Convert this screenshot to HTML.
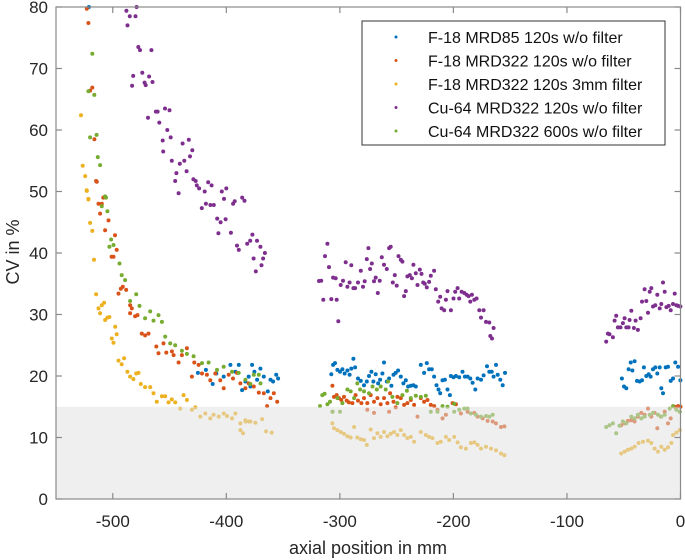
<!DOCTYPE html>
<html><head><meta charset="utf-8"><style>
html,body{margin:0;padding:0;background:#fff;}
svg{display:block;font-family:"Liberation Sans",Arial,sans-serif;}
</style></head><body>
<svg id="chart" width="685" height="560" viewBox="0 0 685 560"></svg>
<script>
const xTicks=[-500,-400,-300,-200,-100,0];
const xTickLabels=["-500","-400","-300","-200","-100","0"];
const yTicks=[0,10,20,30,40,50,60,70,80];
const yTickLabels=["0","10","20","30","40","50","60","70","80"];
const seriesNames=["F-18 MRD85 120s w/o filter","F-18 MRD322 120s w/o filter","F-18 MRD322 120s 3mm filter","Cu-64 MRD322 120s w/o filter","Cu-64 MRD322 600s w/o filter"];
const bandLimit=15;

const blueX=[-521,-412,-408.8,-402.3,-396.4,-392,-389,-386.1,-383.2,-380.3,-378.8,-377.3,-375.3,-372.9,-370,-367,-363.5,-361.1,-358.8,-356.1,-354.4,-425,-418,
-307.5,-306,-304.3,-302.2,-299.9,-297.8,-295.8,-293.4,-291.4,-289.9,-288.1,-286.6,-284,-281.6,-278.7,-276.3,-274.3,-272.2,-270.5,-268.4,-266.3,-264.6,-262.5,-261.1,-258.7,-256.6,-254.6,-252.8,-250.8,-248.7,-246.3,-244,-241.9,-239.9,-237.5,-235.2,-233.1,-228.7,-225.8,-223.4,-221.4,-219,-217,-214.9,-213.1,-211.6,-209.6,-207.5,-205.2,-203.1,-202.2,-199.9,-197.8,-194.9,-192,-189.9,-187.5,-185.1,-183.1,-180.7,-178.7,-175.7,-173.4,-170.4,-168.4,-166.3,-164.6,-162.5,-161,-158.7,-156.6,-154.6,
-51.6,-49.8,-47.7,-45.7,-43.9,-42.4,-40.4,-38.3,-36,-33.9,-32.2,-30.1,-28,-26.3,-24.2,-22.2,-20.4,-18.3,-16.9,-15.4,-13,-11,-8.6,-6.6,-4.6,-2.1,-0.1];
const blueY=[80,18.7,20.4,19.9,21.8,20.7,21.8,17.7,19.1,19.9,18.3,21.8,20.7,19.4,21.2,19.9,17.5,19.4,19.1,20.2,19.6,20.5,21,
20.3,21.8,22.1,21,20.7,21.1,20.4,20.9,20.2,21.2,22.8,21.4,19.6,19.2,18.5,19.1,20,20.7,19.1,20.3,18.8,19.4,20.4,22.2,19.1,19.6,18.4,20.2,20.5,20.9,19.9,18.8,19.3,18.3,18.4,18.5,18.3,21.8,20.5,22.1,21.1,21.1,19.9,18.5,17.8,17.2,19.3,19.4,17.8,16.9,20,19.8,20,19.8,20.7,19.9,19.9,19.6,18.9,17.8,19.6,19.4,20.1,21.6,20.7,20.7,19.9,21.8,20.2,19.4,18.5,20.5,
19.6,18.3,18,21.1,22.2,20.9,22.4,19.2,19.1,19.3,21.4,20,20.3,19.9,21.1,21.4,20.4,21.4,18,17.2,21.4,21.5,19.2,19.6,22.2,21.5,19.3];

const redX=[-522.9,-521.5,-518,-520,-516.2,-514.7,-508.3,-514.1,-512.6,-509.7,-511.2,-506.8,-503.8,-501,-499.4,-498,-496.5,-492.9,-491.2,-495,-488.2,-484.7,-483.2,-484.7,-480.3,-478.2,-474.4,-471.5,-468.5,-461.7,-459.7,-455.3,-452.9,-447.9,-446.4,-442,-439.1,-434.7,-430.3,-428.2,-424.4,-421.4,-417.1,-414.1,-409.7,-405.3,-402.3,-397.9,-394.1,-390.6,-387.6,-383.2,-380.3,-375.8,-371.4,-367,-364.1,-361.1,-358.2,-355.2,
-306.6,-305.2,-302.8,-300.8,-298.7,-296.4,-294,-292,-289,-286.1,-284,-281,-278.7,-275.8,-272.8,-269.9,-266.9,-264,-261.1,-258.1,-255.8,-252.8,-249.3,-246.3,-243.4,-240.5,-237.5,-234.6,-228.7,-225.8,-222.8,-219.9,-216.9,-200.7,-197.8,-275.8,-269.9,-256.6,-250.8,-231.6,-214,-209.6,-206.6,-193.4,-187.5,-181.6,-178.7,-174.3,-169.9,-165.4,-162.5,-158.1,-155.1,
-52.2,-49.2,-46.3,-43.3,-40.4,-37.5,-34.5,-31.6,-28.6,-25.7,-22.8,-20.4,-17.3,-13.9,-11,-8.6,-5.1,-2.1,0];
const redY=[79.7,77.4,66.9,66.4,58.5,51.7,49,51.6,48,48,46.4,43.7,45.3,39.4,39.4,42.9,40.5,34.2,34.5,33.4,34,31.5,31,30.2,29.7,29.9,26.9,26.6,26.9,24.8,23.7,25.3,23.8,24,23.4,22.2,23.4,24.5,19.9,22.2,21.8,20.4,20.2,19.3,20.4,19.3,18,20.2,19.6,20.5,18.8,18,18.8,18.3,17.3,17.2,15.1,16.4,17.2,15.8,
18.4,16.6,16.9,16.4,16.1,16.6,16,15.7,15.6,16.9,16,15.6,16.4,15.6,16.9,15.8,16.4,15.4,16.4,15.6,17.2,15.8,16.6,16.4,15.3,15.6,16.1,15.3,16.4,15.8,16.1,15.3,15.1,15.6,15.4,14.5,14,14.2,14.9,13.4,14.5,13.1,13.7,13.9,14.2,14,13.4,13.1,12.7,12.6,12.3,11.7,11.8,
12,12.3,12.7,12.8,12.6,13.4,14,13.7,14.7,13.4,14,11.5,13.4,14.2,12.3,13.1,15,15.1,15];

const orangeX=[-528,-526.5,-524.3,-523,-521.5,-522.9,-521.5,-520,-518,-516.5,-514.7,-512.6,-511.2,-509.7,-507.6,-506.8,-504.7,-503,-500.9,-499.4,-497.9,-496.5,-495,-492.1,-490,-487.1,-484.7,-481.8,-479.4,-477.3,-475.3,-471.5,-467,-464.1,-461.2,-456.7,-453.8,-450.9,-448,-445,-440.6,-437.6,-434.7,-430.3,-427.3,-422.9,-418.5,-414.1,-411.2,-406.7,-402.3,-399.4,-395,-392,-387.6,-383.2,-378.8,-374.4,-368.5,-387.6,-385.3,-383,-380,-365,-360,
-306.6,-305.2,-302.2,-299.3,-296.4,-293.4,-290.5,-287.5,-284.6,-281.6,-278.7,-276.3,-272.8,-269.9,-266.9,-264,-261.1,-258.1,-255.2,-252.2,-249.3,-246.3,-243.4,-240.5,-237.5,-234.6,-228.7,-224.3,-221.4,-218.5,-214,-211.1,-206.6,-203.7,-199.3,-196.3,-193.4,-189,-184.6,-181.6,-178.7,-175.7,-171.3,-166.9,-162.5,-158.1,-155.1,
-52.2,-49.2,-46.3,-43.3,-40.4,-36.9,-33,-28.6,-25.7,-22.8,-19.8,-16.9,-13.9,-11,-8,-6.6,-3.6,-0.7];
const orangeY=[62.4,54.2,52.5,50.2,48.8,50.1,48.7,44.9,43.6,38.9,33.3,31,30.2,31.5,31.9,29.1,29.5,29.6,26.1,25.4,28,26.8,22.5,21.9,22.9,20.7,19.9,19.5,20.4,20.5,18.7,18.2,18.2,17.2,15.8,16.7,16.7,15.7,16.2,15.7,14.7,16.9,16.1,14.5,14.9,13.4,13.9,13.1,13.7,13.4,13.9,13.5,13.1,13.9,12.3,12.8,12.6,12.4,13,11.2,10.7,12.6,12.6,11,10.8,
12.3,11.5,11.2,10.9,10.6,10.2,10,11.7,10,9.7,9.6,8.8,11.3,9.9,10.7,10.1,10.9,10.2,10.6,10.9,10.4,11.2,10.4,9.9,10.1,9.3,10.9,10.4,10.1,9.9,9.1,9.3,10.1,9.6,10.1,9.2,8.4,8.2,9.1,9.2,8.8,8.2,8.5,8.2,7.9,7.4,7.1,
7.4,7.7,8,8.2,8.5,9.1,9.3,9.5,9.1,8.2,7.7,8.5,8,8.4,9.1,10.4,10.8,11.2];

const purpleX=[-488,-487,-485,-480,-479,-477.5,-476,-466,-483,-482,-474,-472,-471,-468,-465,-469,-462,-460.5,-454,-450,-459,-456,-455.6,-452,-449,-448,-445,-444,-442,-441,-438.5,-437,-435,-433,-432,-430,-429,-427,-426,-424,-419,-416,-413,-404,-400,-386,-421.6,-418,-414,-411,-408,-405,-400.6,-407,-396,-402,-394,-392.6,-384,-390.6,-389,-381.6,-379,-377,-373,-370,-366,-376,-367.6,-369,-374,
-318.4,-316.4,-314.6,-313.1,-311,-309.6,-307.5,-306,-303.7,-302.8,-301.4,-299.3,-297.2,-294.9,-293.4,-291.4,-289.9,-288.1,-286.6,-284,-281.6,-279.6,-278.1,-276.3,-274.9,-273.4,-271.9,-269.9,-268.4,-266.6,-264.9,-263.1,-261.1,-258.7,-256.6,-255.2,-253.4,-251.6,-249.9,-248.4,-246.3,-244.9,-243.4,-241.9,-240.5,-238.4,-236.6,-235.2,-233.1,-231.6,-229.6,-228.1,-226.6,-225.2,-223.4,-221.4,-219.9,-217,-215.5,-213.4,-211.6,-210.4,-208.1,-206.6,-205.2,-202.2,-199.9,-198.4,-196.3,-194.9,-192.8,-190.4,-188.4,-186.6,-185.1,-183.7,-181.6,-179.6,-177.2,-173.4,-175.7,-171.3,-168.4,-167.5,-166,-164.6,
-65.4,-63.9,-62.5,-59.5,-58,-56.6,-55.1,-52.8,-50.7,-49.2,-47.7,-45.7,-44.8,-43.3,-41,-39.5,-37.5,-35.1,-33.9,-31.6,-30.1,-28.6,-27.1,-25.7,-24.2,-22.2,-20.4,-18.3,-16.9,-15.4,-13.9,-12.4,-10.4,-8.6,-6.6,-5.1,-3.6,-2.1,-0.1];
const purpleY=[79.4,77,78.5,78.5,80,73.5,73,73,67.2,68.8,69.3,67.7,67.3,68.7,67.8,62,63,63,63.5,63.2,61.2,58.3,56.5,60,58.8,55,51.7,53,49.7,54.5,57.8,55,53.3,58.4,55.7,56.7,52,51.7,51,50.5,50,51.5,51,50,50.5,49,47.3,48,47.8,47.8,45.6,45,45.5,43.2,43.3,48.8,48,48.4,48.5,41.2,40.5,41.5,42,43,42,41,40,39.1,39.1,38,37,
35.45,35.5,32.4,39.5,41.5,37.7,32.5,36,35.9,32.4,28.9,34.8,35.5,38.5,34.5,35.2,38,34.3,34.3,35.2,37.1,34.5,35.4,39,40.8,37.4,38.3,35.4,36,33.5,35.5,39.3,38.1,37.4,40.8,41,35.2,36.4,34.7,39.5,38.9,38.6,33,33.8,36.2,36.4,35.9,38.1,36.7,34.8,37.3,36.6,35.2,35,34.4,35.3,36.3,37.1,34.1,32.1,32.9,31,30.7,32.4,33.8,30.7,32.6,33.7,34.3,32.6,33.7,33.5,33.2,33,32.1,33.2,32.4,32.6,30.7,30.7,29.5,28.8,28.7,26.5,26.1,27.8,
25.6,26.9,26.8,26.3,29,29.8,27.9,27.9,28.6,29.4,27.9,27.9,29.1,30.6,27.8,29,27.5,29.4,32.1,34.1,32.2,30.3,33.7,34.3,31.3,31.5,33.2,31,31.7,35.2,33.7,31.2,31.4,30.7,31.7,33.4,31.5,31.4,31.3];

const greenX=[-518,-521.5,-516.3,-520,-514.2,-513.2,-511.2,-506.8,-506,-509.7,-504.7,-501.5,-503,-499.4,-494.1,-492.1,-489.1,-484.7,-479.4,-476.5,-471.5,-467,-464.1,-459.7,-456.7,-453.8,-449.4,-445,-439.1,-434.7,-428.8,-421.4,-415.6,-408.2,-402.3,-395,-389.1,-383.2,-375.8,-371.4,-378.8,-369.9,
-317.5,-315.5,-313.4,-311,-308.7,-306.4,-302.2,-299.9,-297.8,-293.4,-290.5,-287.5,-284.6,-282.2,-278.7,-274.3,-271.3,-267.5,-264,-259.6,-257.5,-253.7,-249.3,-244.9,-241,-237.5,-233.1,-228.7,-224.3,-219.9,-214,-209.6,-205.2,-199.3,-194.9,-190.4,-187.5,-184.6,-180.2,-175.7,-171.3,-168.4,-165.4,-306.6,-199.3,
-65.4,-62.5,-59.5,-56.6,-53.7,-50.7,-47.7,-43.3,-40.4,-37.5,-34.5,-31.6,-27.1,-24.2,-19.8,-16.9,-13.9,-9.5,-6.6,-3.6,-0.7];
const greenY=[72.4,66.3,65.7,58.8,59.2,55.6,54.3,49.2,49,47.6,46.8,42.2,41,41.3,38.3,36.4,35.6,32.2,33.3,31.4,29.4,30.5,29,29.9,28.8,26.4,25.3,25,24.1,23.6,23.2,22.1,22.2,21,21.5,20.7,20.5,19.4,20.2,20.2,18.7,18.8,
15.1,16.9,17.1,15.4,15.8,14.2,16.4,14.2,15.6,17.8,17.5,16.4,18.8,17.8,17.5,17.2,18.3,17.8,18.3,17.8,19.1,16.6,15.6,16.9,17.6,16.4,16.8,16.6,16.8,14.2,14.2,15.1,15,14.2,14.5,14.7,14.7,13.9,13.7,13.4,13.5,13.4,13.7,14.2,15.5,
11.7,12,12.3,10.7,11.9,12.6,12.3,13.4,13.1,13.7,13.1,13.4,13.7,14,13.7,13.4,13.7,14.7,15.1,14.5,14.2];

const NS='http://www.w3.org/2000/svg';
const svg=document.getElementById('chart');
const L=56,R=680.5,T=7,B=499,XMIN=-550,XMAX=0,YMIN=0,YMAX=80;
function xs(v){return L+(v-XMIN)*(R-L)/(XMAX-XMIN);}
function ys(v){return B-(v-YMIN)*(B-T)/(YMAX-YMIN);}
function mk(tag,attrs,parent){const e=document.createElementNS(NS,tag);for(const k in attrs)e.setAttribute(k,attrs[k]);(parent||svg).appendChild(e);return e;}

const colors=['#0072BD','#D95319','#EDB120','#7E2F8E','#77AC30'];
const dataX=[blueX,redX,orangeX,purpleX,greenX];
const dataY=[blueY,redY,orangeY,purpleY,greenY];
const slugs=['f18-mrd85-120s','f18-mrd322-120s','f18-mrd322-3mm','cu64-mrd322-120s','cu64-mrd322-600s'];

const bg=mk('rect',{x:L,y:T,width:R-L,height:B-T,fill:'#fff'});



[0,1,2,3,4].forEach(i=>{
  const g=mk('g',{fill:colors[i]});
  
  
  dataX[i].forEach((xv,j)=>{
    const yv=dataY[i][j];
    if(yv>YMAX+0.5)return;
    const c=mk('circle',{cx:xs(xv).toFixed(1),cy:ys(yv).toFixed(1),r:2},g);
    
    
  });
});

const band=mk('rect',{x:L,y:ys(bandLimit),width:R-L,height:ys(0)-ys(bandLimit),fill:'#e0e0e0','fill-opacity':0.5});



const ax=mk('g',{stroke:'#8a8a8a','stroke-width':1.2,fill:'none'});


mk('rect',{x:L,y:T,width:R-L,height:B-T},ax);
xTicks.forEach(t=>{const X=xs(t);mk('line',{x1:X,y1:B,x2:X,y2:B-6},ax);mk('line',{x1:X,y1:T,x2:X,y2:T+6},ax);});
yTicks.forEach(t=>{const Y=ys(t);mk('line',{x1:L,y1:Y,x2:L+6,y2:Y},ax);mk('line',{x1:R,y1:Y,x2:R-6,y2:Y},ax);});

xTicks.forEach((t,i)=>{
  const tx=mk('text',{x:xs(t),y:527,'text-anchor':'middle','font-size':17,fill:'#262626'});
  tx.textContent=xTickLabels[i];
  
  
});
yTicks.forEach((t,i)=>{
  const tx=mk('text',{x:48,y:ys(t)+6,'text-anchor':'end','font-size':17,fill:'#262626'});
  tx.textContent=yTickLabels[i];
  
  
});
const xt=mk('text',{x:368,y:554,'text-anchor':'middle','font-size':18,fill:'#262626'});
xt.textContent='axial position in mm';


const yt=mk('text',{x:0,y:0,'text-anchor':'middle','font-size':18,fill:'#262626',transform:'translate(19,252) rotate(-90)'});
yt.textContent='CV in %';



const lg=mk('g',{});


mk('rect',{x:362,y:21,width:303,height:124,fill:'#fff',stroke:'#333','stroke-width':1},lg);
seriesNames.forEach((n,i)=>{
  const yy=37+i*23.5;
  const e=mk('g',{},lg);
  
  
  mk('circle',{cx:396,cy:yy,r:1.5,fill:colors[i]},e);
  const t=mk('text',{x:428,y:yy+6,'font-size':16,fill:'#111'},e);
  t.textContent=n;
});
</script>
</body></html>
